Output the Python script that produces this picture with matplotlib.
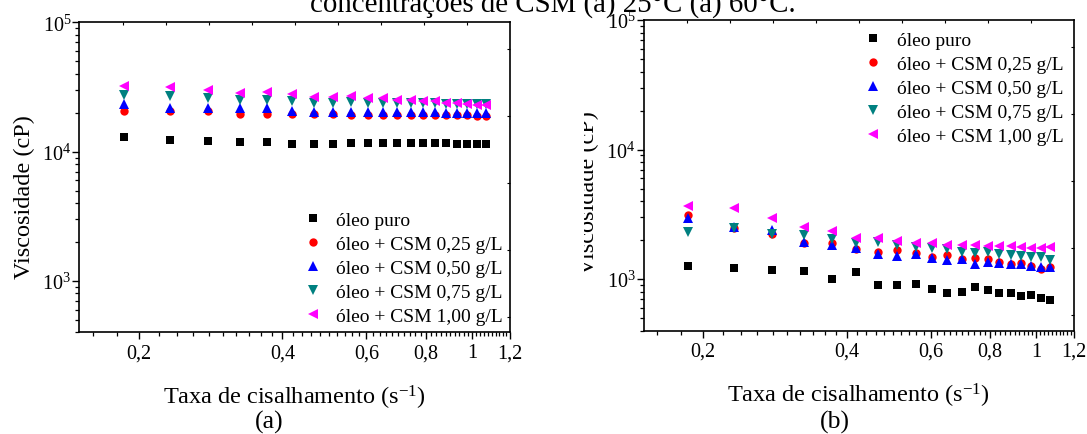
import matplotlib
matplotlib.use("Agg")
import matplotlib.pyplot as plt
from matplotlib.ticker import FixedLocator, NullFormatter, LogLocator, LogFormatterMathtext
from matplotlib.transforms import Bbox, TransformedBbox

# Shear rate (s-1), same steps in both runs.
shear_rate = [0.186, 0.232, 0.279, 0.326, 0.372, 0.418, 0.465, 0.511, 0.558, 0.604,
              0.650, 0.697, 0.743, 0.790, 0.836, 0.883, 0.929, 0.976, 1.022, 1.069]

series_labels = ["óleo puro", "óleo + CSM 0,25 g/L", "óleo + CSM 0,50 g/L",
                 "óleo + CSM 0,75 g/L", "óleo + CSM 1,00 g/L"]

# (a) 25 C, viscosity in cP
visc_a_puro = [13000, 12200, 12000, 11850, 11850, 11500, 11500, 11450, 11650, 11650,
               11700, 11700, 11700, 11650, 11650, 11600, 11550, 11550, 11550, 11450]
visc_a_025 = [20800, 20500, 20500, 19700, 19600, 19500, 19400, 19400, 19300, 19200,
              19200, 19200, 19200, 19200, 19200, 19100, 19100, 19100, 19000, 19000]
visc_a_050 = [23400, 21800, 21600, 21700, 21600, 20500, 20300, 20300, 20300, 20200,
              20200, 20200, 20200, 20100, 20100, 20000, 20000, 20000, 20000, 19900]
visc_a_075 = [27300, 26800, 25900, 25000, 25300, 24700, 24000, 23700, 24200, 23800,
              23900, 23600, 23700, 23700, 23600, 23500, 23500, 23300, 23300, 23200]
visc_a_100 = [32300, 31500, 29900, 28500, 28700, 28000, 26700, 26600, 26900, 25900,
              26100, 25300, 25300, 24600, 24600, 24000, 23900, 23500, 23100, 23100]

# (b) 60 C, viscosity in cP
visc_b_puro = [1262, 1220, 1183, 1151, 1005, 1125, 901, 906, 912, 845,
               788, 798, 870, 819, 777, 788, 746, 757, 720, 684]
visc_b_025 = [3152, 2477, 2228, 1909, 1909, 1696, 1621, 1674, 1600, 1494,
              1547, 1441, 1462, 1441, 1361, 1298, 1330, 1267, 1188, 1235]
visc_b_050 = [2966, 2538, 2414, 1941, 1823, 1728, 1562, 1515, 1562, 1451,
              1409, 1441, 1298, 1346, 1330, 1298, 1298, 1267, 1251, 1235]
visc_b_075 = [2311, 2477, 2241, 2198, 2026, 1904, 1920, 1823, 1770, 1738,
              1717, 1621, 1600, 1621, 1562, 1541, 1515, 1478, 1478, 1404]
visc_b_100 = [3687, 3567, 2966, 2538, 2338, 2070, 2070, 1962, 1887, 1887,
              1834, 1834, 1845, 1803, 1803, 1786, 1770, 1738, 1728, 1770]

x_major = [0.2, 0.4, 0.6, 0.8, 1.0, 1.2]
x_major_labels = ["0,2", "0,4", "0,6", "0,8", "1", "1,2"]
x_minor = [0.16, 0.18, 0.22, 0.24, 0.26, 0.28, 0.30, 0.32, 0.34, 0.36, 0.38,
           0.42, 0.44, 0.46, 0.48, 0.50, 0.52, 0.54, 0.56, 0.58, 0.62, 0.64,
           0.66, 0.68, 0.70, 0.72, 0.74, 0.76, 0.78, 0.82, 0.84, 0.86, 0.88,
           0.90, 0.92, 0.94, 0.96, 0.98, 1.02, 1.04, 1.06, 1.08, 1.10, 1.12,
           1.14, 1.16, 1.18]

markers = ["s", "o", "^", "v", "<"]
colors = ["black", "#ff0000", "#0000ff", "#008080", "#ff00ff"]
sizes = [5.5, 6.0, 7.0, 7.0, 7.0]

plt.rcParams["font.family"] = ["Liberation Serif", "DejaVu Serif"]
plt.rcParams["mathtext.fontset"] = "custom"
plt.rcParams["mathtext.rm"] = "Liberation Serif"
plt.rcParams["mathtext.it"] = "Liberation Serif:italic"

fig = plt.figure(figsize=(10.87, 4.35), dpi=100)
ax_a = fig.add_axes([0.0731, 0.2338, 0.396, 0.7124])
ax_b = fig.add_axes([0.5921, 0.2375, 0.396, 0.7143])


def style_panel(ax, series, legend_anchor, label_y, clip_label=False):
    for values, label, mk, col, ms in zip(series, series_labels, markers, colors, sizes):
        ax.plot(shear_rate, values, linestyle="none", marker=mk, color=col,
                markersize=ms, markeredgewidth=0, label=label)

    ax.set_xscale("log")
    ax.set_yscale("log")
    ax.set_xlim(0.15, 1.2)
    ax.set_ylim(400, 1e5)

    ax.xaxis.set_major_locator(FixedLocator(x_major))
    ax.xaxis.set_major_formatter(matplotlib.ticker.FixedFormatter(x_major_labels))
    ax.xaxis.set_minor_locator(FixedLocator(x_minor))
    ax.xaxis.set_minor_formatter(NullFormatter())
    ax.yaxis.set_major_locator(LogLocator(base=10, numticks=10))
    ax.yaxis.set_major_formatter(LogFormatterMathtext())
    ax.yaxis.set_minor_locator(LogLocator(base=10, subs=range(2, 10), numticks=20))
    ax.yaxis.set_minor_formatter(NullFormatter())

    ax.tick_params(which="major", direction="out", length=4.8, width=1.0,
                   labelsize=14.5, top=False, right=False)
    ax.tick_params(which="minor", direction="out", length=2.7, width=0.9,
                   top=False, right=False)
    ax.tick_params(axis="x", which="major", pad=3)
    ax.tick_params(axis="y", which="major", pad=1)
    for spine in ax.spines.values():
        spine.set_linewidth(1.2)

    # Small inner ticks on top and right, as the original has.
    top = ax.twiny()
    top.set_xlim(0, 1)
    top.set_xticks([0.1, 0.2, 0.3, 0.4, 0.5, 0.6, 0.7, 0.8, 0.9])
    top.tick_params(direction="in", length=2.5, width=0.8, labeltop=False)
    right = ax.twinx()
    right.set_ylim(0, 1)
    right.set_yticks([0.049, 0.265, 0.482, 0.698, 0.914])
    right.tick_params(direction="in", length=2.5, width=0.8, labelright=False)
    for extra in (top, right):
        for spine in extra.spines.values():
            spine.set_visible(False)

    ax.set_xlabel("Taxa de cisalhamento (s$^{\\mathregular{-1}}$)", fontsize=17.5, labelpad=15)
    ylab = ax.set_ylabel("Viscosidade (cP)", fontsize=17.5)
    ax.yaxis.set_label_coords(-0.103, label_y)
    if clip_label:
        clip = TransformedBbox(Bbox.from_extents(584 / 1087, 0, 1, 1), fig.transFigure)
        ylab.set_clip_box(clip)
        ylab.set_clip_on(True)

    ax.legend(loc="upper left", bbox_to_anchor=legend_anchor, frameon=False,
              fontsize=14, numpoints=1, handlelength=1.0, handletextpad=0.7,
              labelspacing=0.33, borderpad=0, borderaxespad=0)


style_panel(ax_a, [visc_a_puro, visc_a_025, visc_a_050, visc_a_075, visc_a_100],
            (0.519, 0.391), 0.44)
style_panel(ax_b, [visc_b_puro, visc_b_025, visc_b_050, visc_b_075, visc_b_100],
            (0.511, 0.963), 0.446, clip_label=True)

# Caption line cut by the top edge, as in the source image.
fig.text(553 / 1087, 0.9725, "concentrações de CSM (a) 25°C (a) 60°C.",
         ha="center", va="baseline", fontsize=20.8)
fig.text(269 / 1087, 0.029, "(a)", ha="center", va="center", fontsize=18.5)
fig.text(835 / 1087, 0.029, "(b)", ha="center", va="center", fontsize=18.5)

fig.savefig("out.png", dpi=100)
